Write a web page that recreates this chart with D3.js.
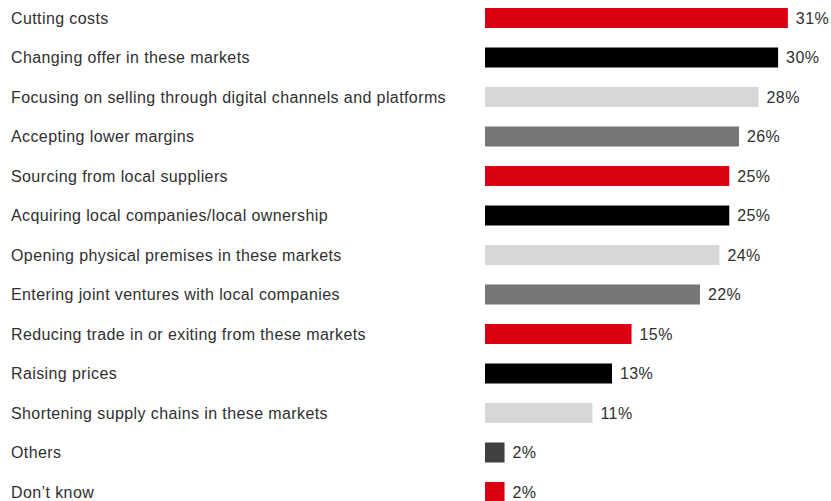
<!DOCTYPE html>
<html>
<head>
<meta charset="utf-8">
<script src="https://cdn.jsdelivr.net/npm/d3@7"></script>
<style>
  html, body { margin: 0; padding: 0; background: #fff; }
  svg { display: block; }
  text { font-family: "Liberation Sans", Arial, sans-serif; fill: #303030; letter-spacing: 0.4px; }
</style>
</head>
<body>
<svg id="chart" width="831" height="501"></svg>
<script>
// Responses, top to bottom
const categories = [
  "Cutting costs",
  "Changing offer in these markets",
  "Focusing on selling through digital channels and platforms",
  "Accepting lower margins",
  "Sourcing from local suppliers",
  "Acquiring local companies/local ownership",
  "Opening physical premises in these markets",
  "Entering joint ventures with local companies",
  "Reducing trade in or exiting from these markets",
  "Raising prices",
  "Shortening supply chains in these markets",
  "Others",
  "Don\u2019t know"
];
const values = [31, 30, 28, 26, 25, 25, 24, 22, 15, 13, 11, 2, 2];
const barColors = [
  "#db0011", "#000000", "#d7d7d5", "#767676",
  "#db0011", "#000000", "#d7d7d5", "#767676",
  "#db0011", "#000000", "#d7d7d5",
  "#404040", "#db0011"
];

const svg = d3.select("#chart");
const barLeft = 485;
const pxPerPoint = 9.77;
const rowStep = 39.5;
const barHeight = 20;
const firstBarTop = 8;
const n = categories.length;

const x = d3.scaleLinear()
  .domain([0, 31])
  .range([barLeft, barLeft + 31 * pxPerPoint]);

const y = d3.scaleBand()
  .domain(categories)
  .range([firstBarTop, firstBarTop + rowStep * (n - 1) + barHeight])
  .paddingInner((rowStep - barHeight) / rowStep)
  .paddingOuter(0);

const data = categories.map((c, i) => ({ c, v: values[i], col: barColors[i] }));

svg.selectAll("rect.bar")
  .data(data)
  .join("rect")
  .attr("class", "bar")
  .attr("x", x(0))
  .attr("y", d => y(d.c))
  .attr("width", d => x(d.v) - x(0))
  .attr("height", y.bandwidth())
  .attr("fill", d => d.col);

svg.selectAll("text.cat")
  .data(data)
  .join("text")
  .attr("class", "cat")
  .attr("x", 11)
  .attr("y", d => y(d.c) + y.bandwidth() / 2)
  .attr("dy", "0.36em")
  .attr("font-size", 16)
  .text(d => d.c);

svg.selectAll("text.val")
  .data(data)
  .join("text")
  .attr("class", "val")
  .attr("x", d => x(d.v) + 8)
  .attr("y", d => y(d.c) + y.bandwidth() / 2)
  .attr("dy", "0.36em")
  .attr("font-size", 16)
  .text(d => d.v + "%");
</script>
</body>
</html>
